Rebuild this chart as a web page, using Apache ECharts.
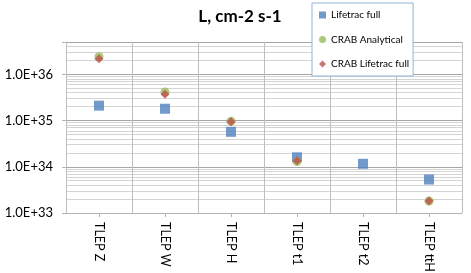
<!DOCTYPE html>
<html>
<head>
<meta charset="utf-8">
<script src="https://cdn.jsdelivr.net/npm/echarts@6/dist/echarts.min.js"></script>
<style>html,body{margin:0;padding:0;background:#fff}#c{width:471px;height:273px}</style>
</head>
<body>
<div id="c"></div>
<script>
var categories = ['TLEP Z', 'TLEP W', 'TLEP H', 'TLEP t1', 'TLEP t2', 'TLEP ttH'];
var lifetracFull = [2.1e35, 1.8e35, 5.7e34, 1.6e34, 1.16e34, 5.3e33];
var crabAnalytical = [2.4e36, 4.15e35, 9.7e34, 1.3e34, null, 1.82e33];
var crabLifetracFull = [2.18e36, 3.7e35, 9.4e34, 1.35e34, null, 1.82e33];
var yMin = 1e33, yMax = 5e36;

var FONT = 'Lato';
var diamond = 'path://M0,-1L1,0L0,1L-1,0Z';

function fmt(v) {
  var l = Math.log10(v);
  if (Math.abs(l - Math.round(l)) > 1e-6) return '';
  return '1.0E+' + Math.round(l);
}

var chart = echarts.init(document.getElementById('c'), null, {renderer: 'canvas'});
chart.setOption({
  animation: false,
  backgroundColor: '#fff',
  textStyle: {fontFamily: FONT},
  title: {
    text: 'L, cm-2 s-1',
    left: 235, top: 3, textAlign: 'center',
    textStyle: {fontFamily: FONT, fontSize: 17, fontWeight: 'bold', color: '#000'}
  },
  legend: {
    orient: 'vertical',
    left: 312, top: 3,
    padding: [6, 4, 6, 7],
    itemGap: 12.5,
    itemWidth: 7, itemHeight: 7,
    backgroundColor: '#fff',
    borderColor: '#95b3d7', borderWidth: 1, borderRadius: 0,
    textStyle: {fontFamily: FONT, fontSize: 10, color: '#000', lineHeight: 12},
    data: [
      {name: 'Lifetrac full', icon: 'rect'},
      {name: 'CRAB Analytical', icon: 'circle'},
      {name: 'CRAB Lifetrac full', icon: diamond}
    ]
  },
  grid: {left: 66, right: 9, top: 42, bottom: 60, containLabel: false, outerBoundsMode: 'none'},
  xAxis: {
    type: 'category',
    data: categories,
    boundaryGap: true,
    z: 1,
    axisLine: {show: true, lineStyle: {color: '#b3b3b3', width: 1}},
    axisTick: {show: true, alignWithLabel: true, length: 4, lineStyle: {color: '#b3b3b3'}},
    axisLabel: {rotate: -90, margin: 9, fontFamily: FONT, fontSize: 12.5, color: '#000', interval: 0},
    splitLine: {show: true, lineStyle: {color: '#bfbfbf', width: 1}}
  },
  yAxis: {
    type: 'log',
    logBase: 10,
    min: yMin, max: yMax,
    axisLine: {show: true, lineStyle: {color: '#b3b3b3'}},
    axisTick: {show: true, length: 4, lineStyle: {color: '#b3b3b3'}},
    axisLabel: {formatter: fmt, margin: 13, fontFamily: FONT, fontSize: 13, color: '#000'},
    splitLine: {show: true, lineStyle: {color: '#a6a6a6', width: 1}},
    minorTick: {show: false, splitNumber: 9},
    minorSplitLine: {show: true, lineStyle: {color: '#d4d4d4', width: 1}}
  },
  series: [
    {
      name: 'Lifetrac full', type: 'scatter', data: lifetracFull,
      symbol: 'rect', symbolSize: 10,
      itemStyle: {color: '#4f81bd'}, z: 3
    },
    {
      name: 'CRAB Analytical', type: 'scatter', data: crabAnalytical,
      symbol: 'circle', symbolSize: 9,
      itemStyle: {color: '#9bbb59'}, z: 4
    },
    {
      name: 'CRAB Lifetrac full', type: 'scatter', data: crabLifetracFull,
      symbol: diamond, symbolSize: 9,
      itemStyle: {color: '#c0504d'}, z: 5
    }
  ]
});
</script>
</body>
</html>
